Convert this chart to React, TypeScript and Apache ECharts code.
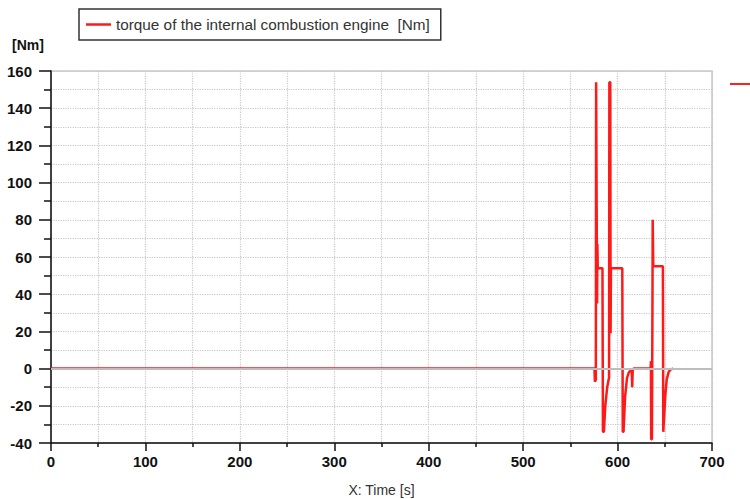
import React, { useEffect, useRef } from "react";
import * as echarts from "echarts";

// Time [s]
const times = [
  0, 575.5, 576, 577, 577.3, 578, 578.3, 578.6, 579, 584, 584.5, 585.5, 587, 589, 590.5, 591,
  591.3, 592.3, 592.6, 593, 605, 605.5, 606.3, 608, 610, 612, 614, 615, 615.5, 616, 617,
  635, 635.3, 635.6, 636.4, 636.7, 637, 637.2, 637.6, 637.8, 648, 648.4, 649, 650.5, 652,
  654, 656, 659,
];
// torque of the internal combustion engine [Nm]
const torque = [
  0, 0, -7, -6, 154, 154, 35, 67, 54, 54, -34, -34, -20, -10, -6, -5,
  154, 154, 19, 54, 54, -34, -34, -15, -5, -2, -1, -1, -10, -1, 0,
  0, 4, -38, -38, 4, 42, 80, 80, 55, 55, -34, -34, -15, -6,
  -2, -0.5, 0,
];

const seriesName = "torque of the internal combustion engine  [Nm]";
const yMin = -40;
const yMax = 160;
const yStep = 20;
const xMin = 0;
const xMax = 700;
const xStep = 100;

export default function App() {
  const ref = useRef<HTMLDivElement>(null);
  useEffect(() => {
    document.body.style.margin = "0";
    if (!ref.current) return;
    const chart = echarts.init(ref.current, null, { renderer: "svg" });
    const font = "Liberation Sans";
    const grid = "#c8c8c8";
    chart.setOption({
      animation: false,
      backgroundColor: "#ffffff",
      textStyle: { fontFamily: font },
      legend: {
        show: true,
        left: 79,
        top: 9,
        padding: [8, 11, 8, 7],
        borderColor: "#333",
        borderWidth: 1.5,
        borderRadius: 0,
        itemWidth: 25,
        itemHeight: 2.5,
        itemGap: 8,
        icon: "rect",
        textStyle: { fontSize: 15.3, color: "#333", fontFamily: font },
        data: [{ name: seriesName, icon: "rect" }],
      },
      grid: {
        left: 51,
        right: 38,
        top: 71,
        bottom: 56,
        show: true,
        borderColor: grid,
        borderWidth: 1.5,
        containLabel: false,
        outerBoundsMode: "none",
      },
      xAxis: {
        type: "value",
        min: xMin,
        max: xMax,
        interval: xStep,
        name: "X: Time [s]",
        nameLocation: "middle",
        nameGap: 40,
        nameTextStyle: { fontSize: 14, color: "#333", fontFamily: font },
        axisLine: { show: true, onZero: false, lineStyle: { color: "#111", width: 1.5 } },
        axisTick: { show: true, length: 8, lineStyle: { color: "#111", width: 1.5 } },
        minorTick: { show: true, splitNumber: 2, length: 4, lineStyle: { color: "#111", width: 1.5 } },
        axisLabel: { margin: 11, fontSize: 15, fontWeight: "bold", color: "#111", fontFamily: font },
        splitLine: { show: true, lineStyle: { color: grid, type: "dotted", width: 1.2 } },
        minorSplitLine: { show: true, lineStyle: { color: grid, type: "dotted", width: 1.2 } },
      },
      yAxis: {
        type: "value",
        min: yMin,
        max: yMax,
        interval: yStep,
        axisLine: { show: true, onZero: false, lineStyle: { color: "#111", width: 1.5 } },
        axisTick: { show: true, length: 12, lineStyle: { color: "#111", width: 1.5 } },
        minorTick: { show: true, splitNumber: 2, length: 7, lineStyle: { color: "#111", width: 1.5 } },
        axisLabel: { margin: 19, fontSize: 15, fontWeight: "bold", color: "#111", fontFamily: font },
        splitLine: { show: true, lineStyle: { color: grid, type: "dotted", width: 1.2 } },
        minorSplitLine: { show: true, lineStyle: { color: grid, type: "dotted", width: 1.2 } },
      },
      graphic: [
        {
          type: "text",
          left: 12,
          top: 38,
          style: { text: "[Nm]", fontSize: 14, fontWeight: "bold", fill: "#111", fontFamily: font },
        },
        {
          type: "line",
          shape: { x1: 730, y1: 84, x2: 750, y2: 84 },
          style: { stroke: "#ff2020", lineWidth: 2 },
        },
      ],
      series: [
        {
          type: "line",
          name: "zero",
          data: [],
          z: 1,
          silent: true,
          markLine: {
            silent: true,
            symbol: "none",
            label: { show: false },
            lineStyle: { color: "#bdbdbd", width: 2, type: "solid" },
            data: [{ yAxis: 0 }],
          },
        },
        {
          type: "line",
          name: seriesName,
          z: 3,
          data: times.map((t, i) => [t, torque[i]]),
          showSymbol: false,
          symbol: "none",
          itemStyle: { color: "#ff1a1a" },
          lineStyle: { color: "#ff1a1a", width: 2.5 },
        },
      ],
    });
    return () => chart.dispose();
  }, []);
  return <div ref={ref} style={{ width: 750, height: 499 }} />;
}
